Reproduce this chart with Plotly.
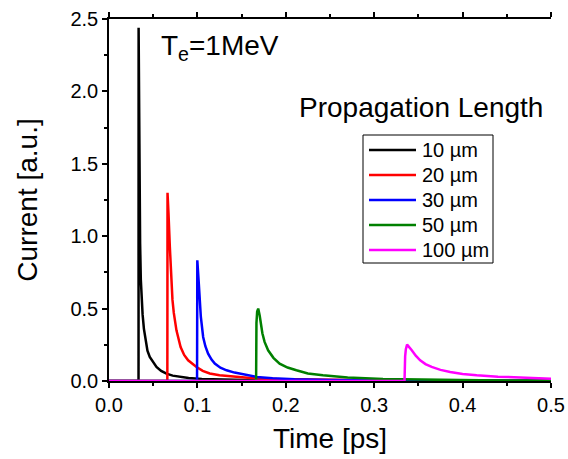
import plotly.graph_objects as go

# Current pulses for several propagation lengths (time in ps, current in a.u.)
t_10 = [0, 0.0334, 0.0335, 0.0345, 0.0352, 0.0360, 0.0370, 0.0380, 0.0395, 0.0412,
        0.0435, 0.0461, 0.0500, 0.0537, 0.0590, 0.0650, 0.0720, 0.0800, 0.0900,
        0.1050, 0.1300, 0.1700, 0.2500, 0.5]
i_10 = [0, 0, 2.44, 1.30, 0.95, 0.70, 0.56, 0.46, 0.36, 0.28,
        0.21, 0.166, 0.13, 0.097, 0.070, 0.051, 0.037, 0.028, 0.020,
        0.013, 0.008, 0.004, 0.002, 0.0]

t_20 = [0, 0.0660, 0.0662, 0.0667, 0.0673, 0.0688, 0.0703, 0.0718, 0.0733, 0.0763,
        0.0810, 0.0850, 0.0895, 0.0990, 0.1060, 0.1140, 0.1250, 0.1400, 0.1600,
        0.1900, 0.2400, 0.3200, 0.5]
i_20 = [0, 0, 1.30, 1.25, 1.16, 0.93, 0.70, 0.56, 0.47, 0.35,
        0.235, 0.18, 0.143, 0.097, 0.070, 0.052, 0.040, 0.030, 0.020,
        0.013, 0.008, 0.004, 0.001]

t_30 = [0, 0.0996, 0.0999, 0.1004, 0.1016, 0.1039, 0.1065, 0.1090, 0.1121, 0.1160,
        0.1197, 0.1260, 0.1330, 0.1420, 0.1515, 0.1670, 0.1850, 0.2100, 0.2500,
        0.3200, 0.5]
i_30 = [0, 0, 0.834, 0.80, 0.673, 0.442, 0.304, 0.24, 0.189, 0.148,
        0.12, 0.092, 0.074, 0.058, 0.046, 0.028, 0.019, 0.012, 0.007,
        0.003, 0.001]

t_50 = [0, 0.1664, 0.1668, 0.1676, 0.1688, 0.1705, 0.1735, 0.1760, 0.1800, 0.1860,
        0.1930, 0.2020, 0.2120, 0.2250, 0.2420, 0.2700, 0.3100, 0.3600, 0.4200, 0.5]
i_50 = [0, 0, 0.40, 0.48, 0.50, 0.45, 0.33, 0.27, 0.212, 0.16,
        0.12, 0.093, 0.074, 0.052, 0.039, 0.024, 0.013, 0.008, 0.005, 0.003]

t_100 = [0, 0.3343, 0.3350, 0.3358, 0.3372, 0.3390, 0.3425, 0.3470, 0.3520, 0.3580,
         0.3650, 0.3750, 0.3860, 0.4000, 0.4160, 0.4400, 0.4700, 0.5]
i_100 = [0, 0, 0.17, 0.22, 0.251, 0.24, 0.212, 0.175, 0.143, 0.117,
         0.097, 0.077, 0.062, 0.049, 0.039, 0.030, 0.022, 0.016]

labels = ["10 µm", "20 µm", "30 µm", "50 µm", "100 µm"]
colors = ["#000000", "#FF0000", "#0000FF", "#008000", "#FF00FF"]
times = [t_10, t_20, t_30, t_50, t_100]
currents = [i_10, i_20, i_30, i_50, i_100]

FONT = "Liberation Sans, Arial, sans-serif"
W, H = 568, 459
ML, MR, MT, MB = 109, 17, 19, 78
PW, PH = W - ML - MR, H - MT - MB


def px_x(p):
    """Pixel column -> paper x."""
    return (p - ML) / PW


def px_y(p):
    """Pixel row -> paper y."""
    return (H - MB - p) / PH


fig = go.Figure()
for name, t, cur, color in zip(labels, times, currents, colors):
    fig.add_trace(go.Scatter(x=t, y=cur, mode="lines", name=name, showlegend=False,
                             line=dict(color=color, width=2.5)))

axis_common = dict(
    showline=True, linecolor="black", linewidth=1.5,
    showgrid=False, zeroline=False, automargin=False,
    ticks="outside", ticklen=5, tickwidth=1.5, tickcolor="black",
    tickfont=dict(family=FONT, size=20, color="black"),
    tickformat=".1f",
)

# Boxed key for the propagation lengths
shapes = [dict(type="rect", xref="paper", yref="paper",
               x0=px_x(363), x1=px_x(493), y0=px_y(135), y1=px_y(263),
               line=dict(color="black", width=1), fillcolor="white", layer="above")]
annotations = []
for k, (name, color) in enumerate(zip(labels, colors)):
    row = 150 + 25 * k
    shapes.append(dict(type="line", xref="paper", yref="paper",
                       x0=px_x(369), x1=px_x(416), y0=px_y(row), y1=px_y(row),
                       line=dict(color=color, width=2.5), layer="above"))
    annotations.append(dict(text=name, xref="paper", yref="paper",
                            x=px_x(420), y=px_y(row), xanchor="left", yanchor="middle",
                            showarrow=False,
                            font=dict(family=FONT, size=20, color="black")))

annotations += [
    dict(text="T<sub>e</sub>=1MeV", xref="paper", yref="paper",
         x=px_x(159), y=0.975, xanchor="left", yanchor="top", showarrow=False,
         font=dict(family=FONT, size=28, color="black")),
    dict(text="Propagation Length", xref="paper", yref="paper",
         x=px_x(297), y=0.804, xanchor="left", yanchor="top", showarrow=False,
         font=dict(family=FONT, size=28, color="black")),
]

fig.update_layout(
    width=W, height=H,
    margin=dict(l=ML, r=MR, t=MT, b=MB),
    paper_bgcolor="white", plot_bgcolor="white",
    font=dict(family=FONT, color="black"),
    showlegend=False,
    xaxis=dict(range=[0, 0.5], dtick=0.1, mirror="allticks",
               minor=dict(dtick=0.05, ticks="outside", ticklen=3, tickwidth=1.5, tickcolor="black"),
               title=dict(text="Time [ps]", font=dict(family=FONT, size=28), standoff=14),
               **axis_common),
    yaxis=dict(range=[0, 2.5], dtick=0.5,
               minor=dict(dtick=0.25, ticks="outside", ticklen=3, tickwidth=1.5, tickcolor="black"),
               title=dict(text="Current [a.u.]", font=dict(family=FONT, size=28), standoff=25),
               **axis_common),
    yaxis2=dict(range=[0, 2.5], overlaying="y", side="right", anchor="x",
                showline=True, linecolor="black", linewidth=1.5, automargin=False,
                showgrid=False, zeroline=False, showticklabels=False,
                ticks="inside", ticklen=5, tickwidth=1.5, tickcolor="black", dtick=0.5,
                minor=dict(dtick=0.25, ticks="inside", ticklen=3, tickwidth=1.5, tickcolor="black")),
    shapes=shapes,
    annotations=annotations,
)

fig.write_html("out.html")
